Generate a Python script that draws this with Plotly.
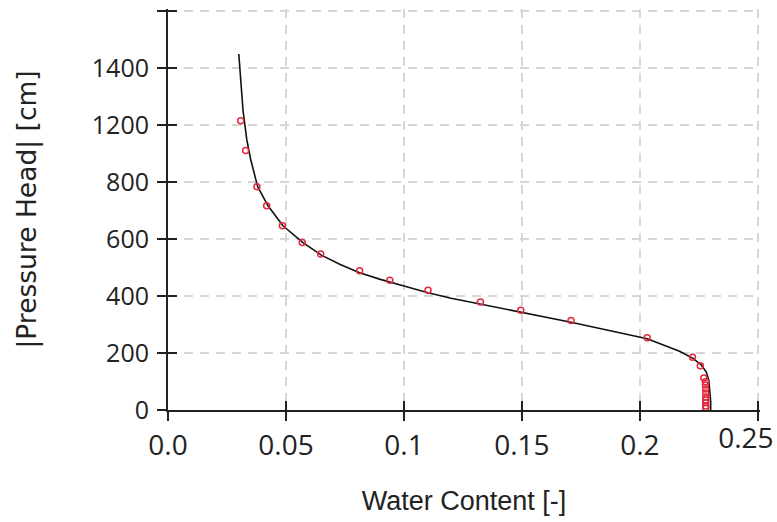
import plotly.graph_objects as go

# Fitted retention curve
curve_theta = [0.0300, 0.0308, 0.0318, 0.0334, 0.0350, 0.0380, 0.0424, 0.0487,
               0.0572, 0.0650, 0.0730, 0.0812, 0.0900, 0.1000, 0.1102, 0.1200, 0.1324,
               0.1495, 0.1708, 0.1850, 0.2031, 0.2168, 0.2225, 0.2260, 0.2281, 0.2292,
               0.2297, 0.2300, 0.2300]
curve_head = [1248, 1150, 1050, 947, 880, 783, 716, 646,
              587, 543, 510, 481, 458, 435, 411, 392, 372,
              343, 308, 282, 250, 206, 181, 158, 134, 105,
              70, 30, 0]

# Measured points
obs_theta = [0.0308, 0.0329, 0.0377, 0.0418, 0.0485, 0.0569, 0.0647, 0.0812, 0.0940,
             0.1102, 0.1324, 0.1495, 0.1708, 0.2031, 0.2223, 0.2256, 0.2271, 0.2278,
             0.2278, 0.2279, 0.2279, 0.2279, 0.2279, 0.2279, 0.2279, 0.2279]
obs_head = [1014, 910, 783, 716, 646, 587, 547, 488, 455,
            420, 379, 350, 314, 253, 185, 155, 112, 99,
            88, 74, 60, 46, 35, 25, 14, 7]

x_tickvals = [0.0, 0.05, 0.1, 0.15, 0.2, 0.25]
x_ticktext_main = ["0.0", "0.05", "0.1", "0.15", "0.2", ""]
x_ticktext_edge = ["", "", "", "", "", "0.25"]
y_tickvals = [0, 200, 400, 600, 800, 1000, 1200, 1400]
y_ticktext = ["0", "200", "400", "600", "800", "1200", "1400", ""]

X_RANGE = [0, 0.2509]
Y_RANGE = [0, 1406]

TXT = "#222222"
AX = "#222222"

fig = go.Figure()
fig.add_trace(go.Scatter(x=curve_theta, y=curve_head, mode="lines",
                         line=dict(color="#111111", width=1.6), showlegend=False))
fig.add_trace(go.Scatter(x=obs_theta, y=obs_head, mode="markers",
                         marker=dict(symbol="circle-open", size=6, color="#e3283c",
                                     line=dict(width=1.5, color="#e3283c")),
                         showlegend=False))
# invisible trace to host the overlay axes (inside tick halves + edge label)
fig.add_trace(go.Scatter(x=[None], y=[None], xaxis="x2", yaxis="y2",
                         showlegend=False, hoverinfo="skip"))

common = dict(showgrid=True, gridcolor="#d6d6d6", gridwidth=1.5, griddash="9px,7px",
              zeroline=False, showline=True, linecolor=AX, linewidth=2,
              ticks="outside", ticklen=9, tickwidth=2, tickcolor=AX, automargin=False)

fig.update_layout(
    width=777, height=522,
    margin=dict(l=168, r=17, t=9, b=112, autoexpand=False),
    paper_bgcolor="white", plot_bgcolor="white",
    font=dict(family="Open Sans", color=TXT),
    xaxis=dict(range=X_RANGE, tickvals=x_tickvals, ticktext=x_ticktext_main,
               tickfont=dict(size=28, color=TXT, family="Open Sans"),
               title=dict(text="Water Content [-]",
                          font=dict(size=27, color=TXT, family="Liberation Sans"),
                          standoff=30),
               **common),
    yaxis=dict(range=Y_RANGE, tickvals=y_tickvals, ticktext=y_ticktext,
               tickfont=dict(size=25, color=TXT, family="Open Sans"),
               ticklabelstandoff=3,
               title=dict(text="|Pressure Head| [cm]",
                          font=dict(size=26.5, color=TXT, family="DejaVu Sans"),
                          standoff=48),
               **common),
    xaxis2=dict(range=X_RANGE, overlaying="x", anchor="y2", side="bottom",
                tickvals=x_tickvals, ticktext=x_ticktext_edge, showticklabels=True,
                tickfont=dict(size=28, color=TXT, family="Open Sans"),
                ticklabelstandoff=9, ticklabelshift=-12, ticklabeloverflow="allow",
                showgrid=False, zeroline=False,
                ticks="inside", ticklen=9, tickwidth=2, tickcolor=AX, showline=False,
                automargin=False),
    yaxis2=dict(range=Y_RANGE, overlaying="y", anchor="x2", side="left",
                tickvals=y_tickvals, showticklabels=False, showgrid=False, zeroline=False,
                ticks="inside", ticklen=9, tickwidth=2, tickcolor=AX, showline=False,
                automargin=False),
)

fig.write_html("out.html")
